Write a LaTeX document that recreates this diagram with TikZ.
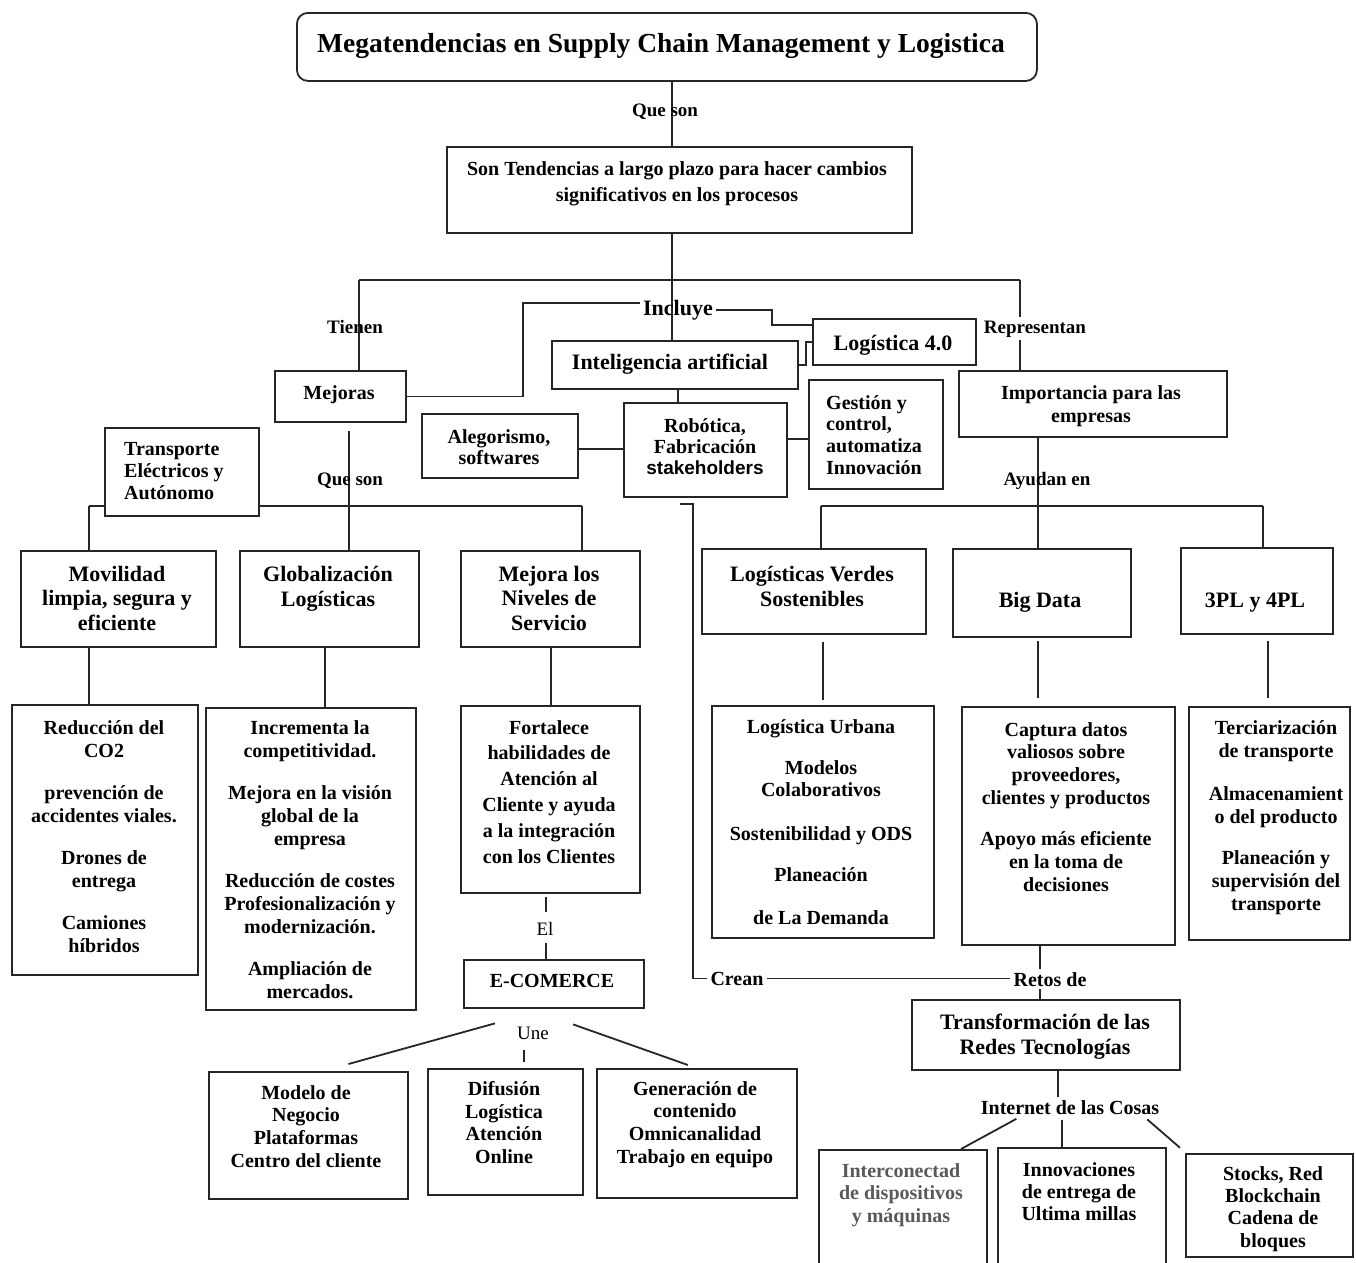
\documentclass[tikz,border=0pt]{standalone}
\usepackage{fontspec}
\setmainfont{Liberation Serif}
\newfontfamily\sansfam{Liberation Sans}
\usetikzlibrary{backgrounds,calc}

% box from its top-left and bottom-right corners: [options]{name}{x1}{y1}{x2}{y2}
\newcommand\mkbox[6][]{%
  \pgfmathsetmacro\bxw{#5-#3}%
  \pgfmathsetmacro\bxh{#6-#4}%
  \node[bx,#1,minimum width=\bxw pt,minimum height=\bxh pt] (#2) at (#3,#4) {};}

\tikzset{
  ln/.style={draw=black!85, line width=1.8pt},
  bx/.style={draw=black!85, line width=1.8pt, fill=white, inner sep=0pt, anchor=north west},
  tA/.style={inner sep=0pt, align=center, anchor=north, text=black, font=\fontsize{20}{23}\selectfont\bfseries},
  tB/.style={inner sep=0pt, align=center, anchor=north, text=black, font=\fontsize{22}{24.5}\selectfont\bfseries},
  one/.style={inner sep=0pt, anchor=base, text=black, font=\fontsize{20}{23}\selectfont\bfseries},
  oneB/.style={inner sep=0pt, anchor=base, text=black, font=\fontsize{22}{24}\selectfont\bfseries},
  lbl/.style={inner sep=3pt, anchor=base, text=black, font=\fontsize{19}{22}\selectfont\bfseries},
}

\begin{document}
\begin{tikzpicture}[x=1pt,y=-1pt]
\useasboundingbox (0,0) rectangle (1356,1262);
\begin{scope}[on background layer]
  \fill[white] (0,0) rectangle (1356,1262);
\end{scope}

% ---------- boxes ----------
\mkbox[rounded corners=11pt]{title}{296}{12}{1036}{80}
\mkbox{sonT}{446}{146}{911}{232}
\mkbox{mejoras}{274}{370}{405}{421}
\mkbox{ia}{551}{340}{797}{388}
\mkbox{log40}{812}{318}{975}{364}
\mkbox{imp}{958}{370}{1226}{436}
\mkbox{transp}{104}{427}{258}{515}
\mkbox{aleg}{421}{413}{577}{477}
\mkbox{rob}{623}{402}{786}{496}
\mkbox{gest}{808}{379}{942}{488}
\mkbox{movil}{20}{550}{215}{646}
\mkbox{glob}{239}{550}{418}{646}
\mkbox{mejn}{460}{550}{639}{646}
\mkbox{lv}{701}{548}{925}{633}
\mkbox{bd}{952}{548}{1130}{636}
\mkbox{pl}{1180}{547}{1332}{633}
\mkbox{reduc}{11}{704}{197}{974}
\mkbox{incr}{205}{707}{415}{1009}
\mkbox{fort}{460}{705}{639}{892}
\mkbox{lu}{711}{705}{933}{937}
\mkbox{cap}{961}{706}{1174}{944}
\mkbox{terc}{1188}{706}{1349}{939}
\mkbox{ecom}{463}{959}{643}{1007}
\mkbox{transf}{911}{999}{1179}{1069}
\mkbox{modelo}{208}{1071}{407}{1198}
\mkbox{dif}{427}{1068}{582}{1194}
\mkbox{gen}{596}{1068}{796}{1197}
\mkbox{interc}{818}{1149}{986}{1290}
\mkbox{innov}{997}{1147}{1165}{1290}
\mkbox{stocks}{1185}{1153}{1352}{1256}

% ---------- box texts ----------
\node[one,font=\fontsize{27.5}{30}\selectfont\bfseries] (title-t) at (661,52) {Megatendencias en Supply Chain Management y Logistica};
\node[tA,font=\fontsize{20}{26}\selectfont\bfseries] (sonT-t) at (677,161) {Son Tendencias a largo plazo para hacer cambios\\significativos en los procesos};
\node[one] (mejoras-t) at (339,399) {Mejoras};
\node[oneB] (ia-t) at (670,369) {Inteligencia artificial};
\node[oneB] (log40-t) at (893,350) {Logística 4.0};
\node[tA] (imp-t) at (1091,385) {Importancia para las\\empresas};
\node[tA,align=left,anchor=north west,font=\fontsize{20}{22}\selectfont\bfseries] (transp-t) at (124,442) {Transporte\\Eléctricos y\\Autónomo};
\node[tA,font=\fontsize{20}{21.5}\selectfont\bfseries] (aleg-t) at (499,429) {Alegorismo,\\softwares};
\node[tA,font=\fontsize{20}{21}\selectfont\bfseries] (rob-t) at (705,418) {Robótica,\\Fabricación\\{\sansfam\fontsize{19}{21}\selectfont stakeholders}};
\node[tA,align=left,anchor=north west,font=\fontsize{20}{21.7}\selectfont\bfseries] (gest-t) at (826,395) {Gestión y\\control,\\automatiza\\Innovación};
\node[tB] (movil-t) at (117,566) {Movilidad\\limpia, segura y\\eficiente};
\node[tB] (glob-t) at (328,566) {Globalización\\Logísticas};
\node[tB] (mejn-t) at (549,566) {Mejora los\\Niveles de\\Servicio};
\node[tB] (lv-t) at (812,566) {Logísticas Verdes\\Sostenibles};
\node[oneB] (bd-t) at (1040,607) {Big Data};
\node[oneB] (pl-t) at (1255,607) {3PL y 4PL};
\node[tA] (reduc-t) at (104,720) {Reducción del\\CO2\\[19pt]prevención de\\accidentes viales.\\[19pt]Drones de\\entrega\\[19pt]Camiones\\híbridos};
\node[tA] (incr-t) at (310,720) {Incrementa la\\competitividad.\\[19pt]Mejora en la visión\\global de la\\empresa\\[19pt]Reducción de costes\\Profesionalización y\\modernización.\\[19pt]Ampliación de\\mercados.};
\node[tA,font=\fontsize{20}{25.8}\selectfont\bfseries] (fort-t) at (549,720) {Fortalece\\habilidades de\\Atención al\\Cliente y ayuda\\a la integración\\con los Clientes};
\node[tA,font=\fontsize{20}{22}\selectfont\bfseries] (lu-t) at (821,719) {Logística Urbana\\[19pt]Modelos\\Colaborativos\\[22pt]Sostenibilidad y ODS\\[19pt]Planeación\\[21pt]de La Demanda};
\node[tA,font=\fontsize{20}{22.7}\selectfont\bfseries] (cap-t) at (1066,722) {Captura datos\\valiosos sobre\\proveedores,\\clientes y productos\\[19pt]Apoyo más eficiente\\en la toma de\\decisiones};
\node[tA] (terc-t) at (1276,720) {Terciarización\\de transporte\\[20pt]Almacenamient\\o del producto\\[18pt]Planeación y\\supervisión del\\transporte};
\node[one] (ecom-t) at (552,987) {E-COMERCE};
\node[tB,font=\fontsize{22}{25}\selectfont\bfseries] (transf-t) at (1045,1014) {Transformación de las\\Redes Tecnologías};
\node[tA,font=\fontsize{20}{22.7}\selectfont\bfseries] (modelo-t) at (306,1085) {Modelo de\\Negocio\\Plataformas\\Centro del cliente};
\node[tA,font=\fontsize{20}{22.7}\selectfont\bfseries] (dif-t) at (504,1081) {Difusión\\Logística\\Atención\\Online};
\node[tA,font=\fontsize{20}{22.7}\selectfont\bfseries] (gen-t) at (695,1081) {Generación de\\contenido\\Omnicanalidad\\Trabajo en equipo};
\node[tA,text=black!65,font=\fontsize{20}{22.5}\selectfont\bfseries] (interc-t) at (901,1163) {Interconectad\\de dispositivos\\y máquinas};
\node[tA,font=\fontsize{20}{22}\selectfont\bfseries] (innov-t) at (1079,1162) {Innovaciones\\de entrega de\\Ultima millas};
\node[tA,font=\fontsize{20}{22.3}\selectfont\bfseries] (stocks-t) at (1273,1166) {Stocks, Red\\Blockchain\\Cadena de\\bloques};

% ---------- connector labels ----------
\node[lbl] (qs1) at (665,116) {Que son};
\node[lbl] (tienen) at (355,333) {Tienen};
\node[lbl,font=\fontsize{22}{24}\selectfont\bfseries] (incl) at (678,315) {Incluye};
\node[lbl] (repr) at (1035,333) {Representan};
\node[lbl] (qs2) at (350,485) {Que son};
\node[lbl] (ayud) at (1047,485) {Ayudan en};
\node[lbl,font=\fontsize{19}{22}\selectfont] (el) at (545,935) {El};
\node[lbl,font=\fontsize{19}{22}\selectfont] (une) at (533,1039) {Une};
\node[lbl,font=\fontsize{20}{22}\selectfont\bfseries] (crean) at (737,985) {Crean};
\node[lbl,font=\fontsize{20}{22}\selectfont\bfseries] (retos) at (1050,986) {Retos de};
\node[lbl,font=\fontsize{20}{22}\selectfont\bfseries] (iot) at (1070,1114) {Internet de las Cosas};

% ---------- junctions and guide positions ----------
\coordinate (gMain) at (672,280);
\coordinate (busL) at (359,280);
\coordinate (busR) at (1020,280);
\coordinate (kM) at (523,303);
\coordinate (kI) at (772,325);
\coordinate (kA) at (806,342);
\coordinate (gRob) at (678,449);
\coordinate (gGest) at (797,439);
\coordinate (b2L) at (821,506);
\coordinate (b2M) at (1038,506);
\coordinate (b2R) at (1263,506);
\coordinate (b3L) at (89,506);
\coordinate (b3M) at (349,506);
\coordinate (b3R) at (582,506);
\coordinate (crA) at (680,504);
\coordinate (crB) at (693,504);
\coordinate (gLV) at (823,0);
\coordinate (gBD) at (1038,0);
\coordinate (gPL) at (1268,0);
\coordinate (gGl) at (325,0);
\coordinate (gMn) at (551,0);
\coordinate (gEl) at (546,0);
\coordinate (gRet) at (1040,0);
\coordinate (gTf) at (1058,0);
\coordinate (gI1) at (1019,0);
\coordinate (gI1b) at (961,0);
\coordinate (gI2) at (1062,0);
\coordinate (gI3) at (1145,0);
\coordinate (gI3b) at (1186,0);
\coordinate (gU) at (524,0);

% ---------- connectors ----------
\begin{scope}[on background layer]
  \draw[ln] (title.south -| gMain) -- (sonT.north -| gMain);
  \draw[ln] (sonT.south -| gMain) -- (gMain);
  \draw[ln] (busL) -- (busR);
  \draw[ln] (busL) -- (mejoras.north -| busL);
  \draw[ln] (busR) -- (repr.north -| busR);
  \draw[ln] (repr.south -| busR) -- (imp.north -| busR);
  \draw[ln] (gMain) -- (ia.north -| gMain);
  \draw[ln] (mejoras.east) -| (kM) -- (incl.west |- kM);
  \draw[ln] (incl.east) -| (kI) -- (log40.west |- kI);
  \draw[ln] (ia.east) -| (kA) -- (log40.west |- kA);
  \draw[ln] (ia.south -| gRob) -- (rob.north -| gRob);
  \draw[ln] (aleg.east |- gRob) -- (rob.west |- gRob);
  \draw[ln] (rob.east |- gGest) -- (gest.west |- gGest);

  \draw[ln] (imp.south -| b2M) -- (b2M);
  \draw[ln] (b2L) -- (b2R);
  \draw[ln] (b2L) -- (lv.north -| b2L);
  \draw[ln] (b2M) -- (bd.north -| b2M);
  \draw[ln] (b2R) -- (pl.north -| b2R);
  \draw[ln,shorten <=7pt,shorten >=5pt] (lv.south -| gLV) -- (lu.north -| gLV);
  \draw[ln,shorten <=3pt,shorten >=8pt] (bd.south -| gBD) -- (cap.north -| gBD);
  \draw[ln,shorten <=6pt,shorten >=8pt] (pl.south -| gPL) -- (terc.north -| gPL);
  \draw[ln] (cap.south -| gRet) -- (retos.north -| gRet);
  \draw[ln] (retos.south -| gRet) -- (transf.north -| gRet);
  \draw[ln] (crA) -- (crB) |- (crean.west);
  \draw[ln] (crean.east) -- (retos.west |- crean.east);
  \draw[ln] (transf.south -| gTf) -- (iot.north -| gTf);
  \draw[ln,shorten <=3pt] (iot.south -| gI1) -- (interc.north -| gI1b);
  \draw[ln,shorten <=3pt] (iot.south -| gI2) -- (innov.north -| gI2);
  \draw[ln,shorten <=3pt,shorten >=8pt] (iot.south -| gI3) -- (stocks.north -| gI3b);

  \draw[ln,shorten <=8pt] (mejoras.south -| b3M) -- (b3M);
  \draw[ln] (b3L) -- (b3R);
  \draw[ln] (b3L) -- (movil.north -| b3L);
  \draw[ln] (b3M) -- (glob.north -| b3M);
  \draw[ln] (b3R) -- (mejn.north -| b3R);
  \draw[ln] (movil.south -| b3L) -- (reduc.north -| b3L);
  \draw[ln] (glob.south -| gGl) -- (incr.north -| gGl);
  \draw[ln] (mejn.south -| gMn) -- (fort.north -| gMn);
  \draw[ln,shorten <=3pt,shorten >=7pt] (fort.south -| gEl) -- (el.north -| gEl);
  \draw[ln,shorten <=5pt] (el.south -| gEl) -- (ecom.north -| gEl);
  \draw[ln] ($(une.north west)+(-19,0)$) -- ($(modelo.north)+(40,-7)$);
  \draw[ln,shorten <=8pt,shorten >=6pt] (une.south -| gU) -- (dif.north -| gU);
  \draw[ln] ($(une.north east)+(21,1)$) -- ($(gen.north)+(-9,-3)$);
\end{scope}
\end{tikzpicture}
\end{document}
